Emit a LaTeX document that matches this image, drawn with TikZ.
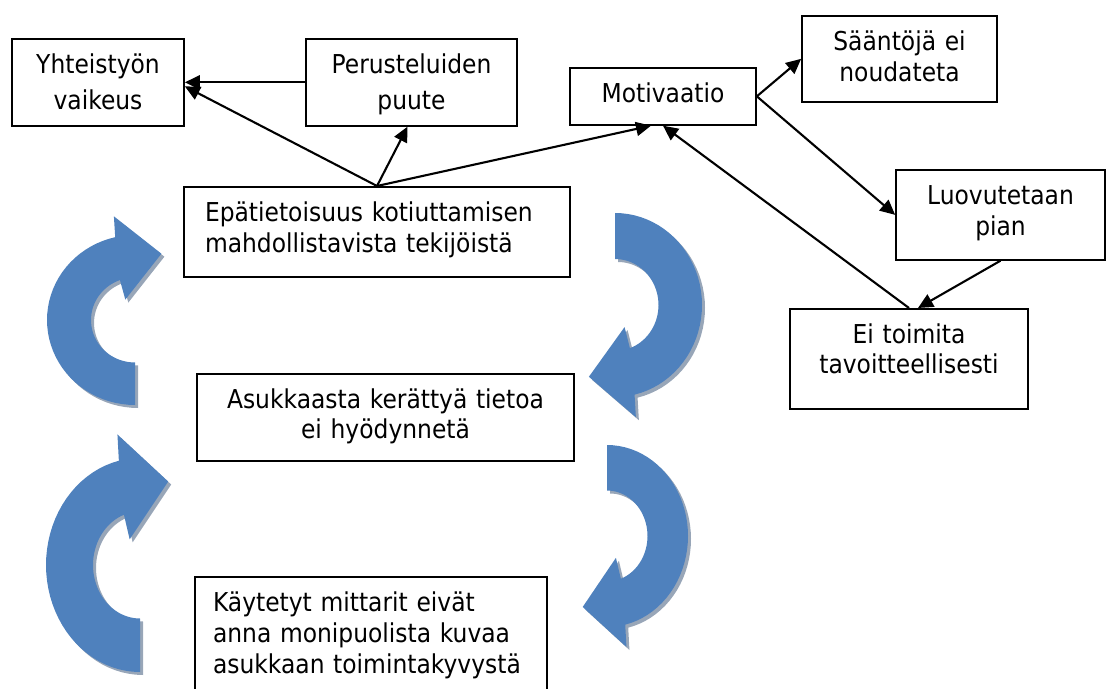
\documentclass[tikz,border=0pt]{standalone}
\usepackage{fontspec}
\setmainfont{DejaVu Sans}[FakeStretch=0.9]
\usetikzlibrary{arrows.meta}
\definecolor{ringblue}{HTML}{4F81BD}
\definecolor{ringgrey}{HTML}{98A6B8}
\tikzset{box/.style={draw,line width=0.85pt,anchor=north,inner ysep=8pt,inner xsep=0pt,
    align=center,text height=9.5pt,font=\fontsize{13pt}{15.5pt}\selectfont},
  lbox/.style={box,align=left,inner xsep=10.5pt},
  link/.style={line width=1.05pt,-{Triangle[length=7.5pt,width=7pt]}},
  ring/.style={fill=ringblue},ringback/.style={fill=ringgrey}}
\newcommand{\ringpath}{(270:1) -- plot[domain=270:103,samples=40] (\x:1)
  -- (-0.24,1.22) -- (0.3,0.78) -- (-0.11,0.24)
  -- plot[domain=110:270,samples=40] (\x:0.5) -- cycle}
\newcommand{\cyclearrow}[5]{%
\begin{scope}[shift={(#1+3,#2+3)},rotate=#5,xscale=#3,yscale=-#4]
\fill[ringback] \ringpath;\end{scope}
\begin{scope}[shift={(#1,#2)},rotate=#5,xscale=#3,yscale=-#4]
\fill[ring] \ringpath;\end{scope}}

\begin{document}
\begin{tikzpicture}[x=0.5pt,y=-0.5pt]
\useasboundingbox (0,0) rectangle (1107,689);
\clip (0,0) rectangle (1107,689);
\cyclearrow{135}{320}{88}{85}{0}
\cyclearrow{140}{565}{94}{107}{0}
\cyclearrow{615}{305}{87}{92}{180}
\cyclearrow{607}{536}{81}{91}{180}
\node[box,text width=86pt,text depth=18pt,font=\fontsize{13pt}{18pt}\selectfont] (yht) at (98,38) {Yhteistyön\\vaikeus};
\node[box,text width=105.5pt,text depth=18pt,font=\fontsize{13pt}{18pt}\selectfont] (per) at (411.5,38) {Perusteluiden\\puute};
\node[lbox,text width=172pt,text depth=19.5pt] (epa) at (377,186) {Epätietoisuus kotiuttamisen\\mahdollistavista tekijöistä};
\node[box,text width=93pt,text depth=3pt] (mot) at (663,67) {Motivaatio};
\node[box,text width=97.5pt,text depth=17.5pt] (saa) at (899.5,15) {Sääntöjä ei\\noudateta};
\node[box,text width=104.5pt,text depth=19.5pt] (luo) at (1000.5,169) {Luovutetaan\\pian};
\node[box,text width=119pt,text depth=24.5pt,font=\fontsize{13pt}{15pt}\selectfont] (eit) at (909,308) {Ei toimita\\tavoitteellisesti};
\node[box,text width=188.5pt,text depth=18pt,font=\fontsize{13pt}{15pt}\selectfont] (asu) at (385.5,373) {Asukkaasta kerättyä tietoa\\ei hyödynnetä};
\node[lbox,inner xsep=9pt,text width=158pt,text depth=46pt] (kay) at (371,576) {Käytetyt mittarit eivät\\anna monipuolista kuvaa\\asukkaan toimintakyvystä};
\draw[link] (per.west) -- (yht.east);
\draw[link] (epa.north) -- ([yshift=-2pt]yht.east);
\draw[link] (epa.north) -- ([xshift=-2pt]per.south);
\draw[link] (epa.north) -- ([xshift=-6pt]mot.south);
\draw[link] (eit.north) -- (mot.south);
\draw[link] (mot.east) -- (saa.west);
\draw[link] (mot.east) -- (luo.west);
\draw[link] (luo.south) -- ([xshift=4.5pt]eit.north);
\end{tikzpicture}
\end{document}
